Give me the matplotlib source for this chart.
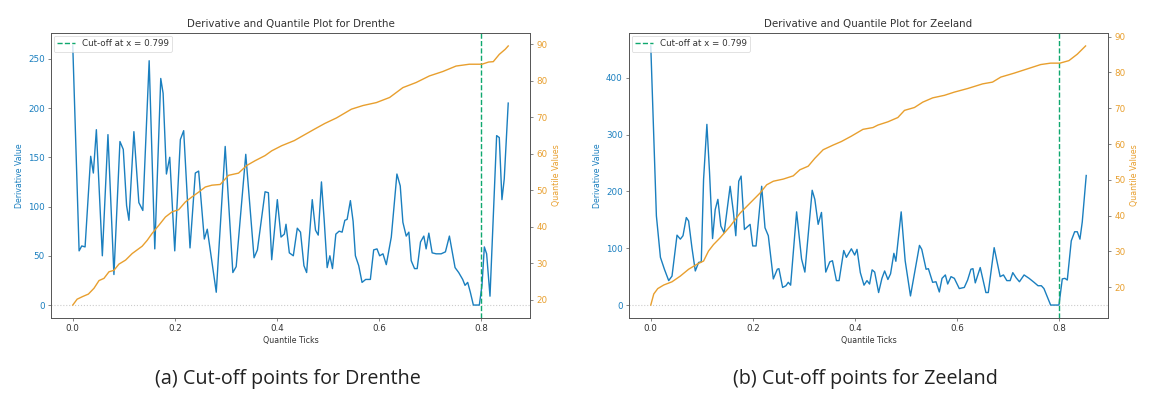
import matplotlib
matplotlib.use("Agg")
import matplotlib.pyplot as plt

# ---------------- data ----------------
cutoff = 0.799
x_ticks = [0.0, 0.2, 0.4, 0.6, 0.8]
regions = ["Drenthe", "Zeeland"]
captions = ["(a) Cut-off points for Drenthe", "(b) Cut-off points for Zeeland"]

drenthe_deriv_x = [0, 0.0124, 0.0176, 0.0241, 0.0351, 0.0403, 0.0462, 0.0579, 0.0689, 0.0806,
                   0.0924, 0.0989, 0.1054, 0.110, 0.1197, 0.1294, 0.1372, 0.1496, 0.1606, 0.1723,
                   0.1769, 0.1834, 0.1899, 0.1997, 0.2107, 0.2172, 0.2296, 0.2400, 0.2465, 0.2576,
                   0.2634, 0.281, 0.2985, 0.3135, 0.32, 0.3388, 0.355, 0.3616, 0.3766, 0.3831,
                   0.3896, 0.4006, 0.4078, 0.4143, 0.4176, 0.4241, 0.4319, 0.4397, 0.446, 0.4527,
                   0.458, 0.469, 0.4754, 0.4807, 0.487, 0.4924, 0.4982, 0.5035, 0.5086, 0.5152,
                   0.5217, 0.5275, 0.5328, 0.5373, 0.5437, 0.549, 0.5535, 0.56, 0.5665, 0.5737,
                   0.5828, 0.5893, 0.5958, 0.601, 0.6075, 0.614, 0.6238, 0.6348, 0.6413, 0.6465,
                   0.653, 0.6582, 0.6628, 0.6693, 0.6745, 0.681, 0.6875, 0.692, 0.6973, 0.7038,
                   0.7116, 0.7214, 0.7298, 0.7376, 0.7428, 0.7487, 0.7558, 0.7636, 0.7682, 0.7734,
                   0.7786, 0.7845, 0.7962, 0.8014, 0.806, 0.8105, 0.8171, 0.8301, 0.8353, 0.8405,
                   0.845, 0.8528]
drenthe_deriv_y = [263, 55, 60, 59, 151, 134, 178, 50, 173, 31,
                   166, 158, 101, 86, 176, 104, 96, 248, 57, 230,
                   215, 133, 150, 55, 168, 177, 58, 134, 136, 67,
                   77, 13, 161, 33, 39, 153, 48, 56, 115, 114,
                   46, 107, 69, 72, 82, 53, 50, 78, 74, 40,
                   33, 107, 76, 71, 125, 86, 38, 50, 37, 72,
                   75, 74, 86, 87, 106, 85, 50, 40, 23, 26,
                   26, 56, 57, 50, 52, 41, 69, 133, 121, 84,
                   70, 74, 45, 37, 37, 64, 70, 57, 73, 53,
                   52, 52, 54, 70, 55, 38, 33, 26, 20, 23,
                   13, 0, 0, 20, 59, 52, 9, 172, 170, 107,
                   128, 205]

drenthe_quant_x = [0, 0.0085, 0.0189, 0.0306, 0.0416, 0.0514, 0.0611, 0.0709, 0.0806, 0.0904,
                   0.1034, 0.1164, 0.1359, 0.1457, 0.1554, 0.1684, 0.1815, 0.1945, 0.2075, 0.2205,
                   0.2335, 0.2465, 0.2595, 0.2725, 0.2888, 0.305, 0.3246, 0.3408, 0.3571, 0.3766,
                   0.3896, 0.4091, 0.4338, 0.4514, 0.4742, 0.4937, 0.5164, 0.5457, 0.5684, 0.5945,
                   0.6205, 0.6465, 0.6725, 0.6985, 0.7246, 0.7506, 0.7766, 0.8014, 0.8144, 0.8235,
                   0.8353, 0.847, 0.8528]
drenthe_quant_y = [18.6, 20.2, 20.9, 21.6, 23.2, 25.3, 25.9, 27.7, 28.1, 29.8,
                   30.9, 32.7, 34.7, 36.3, 38.2, 40.4, 42.7, 44.1, 44.7, 46.8,
                   48.2, 49.5, 50.9, 51.4, 51.6, 54.1, 54.7, 56.8, 58.1, 59.5,
                   60.8, 62.2, 63.6, 65.0, 66.8, 68.3, 69.8, 72.2, 73.2, 74.0,
                   75.4, 78.1, 79.5, 81.3, 82.5, 84.0, 84.5, 84.5, 85.1, 85.2,
                   87.2, 88.6, 89.5]

zeeland_deriv_x = [0, 0.011, 0.0189, 0.0267, 0.0351, 0.0416, 0.0514, 0.0579, 0.0631, 0.0696,
                   0.0741, 0.0806, 0.0872, 0.0937, 0.0989, 0.1034, 0.1099, 0.1151, 0.121, 0.1262,
                   0.1314, 0.1372, 0.1437, 0.1554, 0.1619, 0.1665, 0.1723, 0.1769, 0.1834, 0.1945,
                   0.1997, 0.2062, 0.2172, 0.2237, 0.2302, 0.24, 0.2478, 0.251, 0.2582, 0.2647,
                   0.2693, 0.2739, 0.2856, 0.2953, 0.3018, 0.3161, 0.3213, 0.3278, 0.3343, 0.3427,
                   0.3506, 0.3558, 0.3636, 0.3688, 0.3779, 0.3831, 0.3929, 0.3993, 0.4039, 0.4104,
                   0.4176, 0.4234, 0.4285, 0.4335, 0.4385, 0.4462, 0.4527, 0.458, 0.4644, 0.4696,
                   0.4761, 0.48, 0.4904, 0.4982, 0.5086, 0.5262, 0.5307, 0.5392, 0.5437, 0.552,
                   0.5586, 0.5651, 0.5704, 0.5769, 0.5815, 0.588, 0.5945, 0.6042, 0.614, 0.6205,
                   0.627, 0.631, 0.6355, 0.6452, 0.6563, 0.661, 0.6725, 0.6842, 0.6907, 0.6973,
                   0.7038, 0.709, 0.7155, 0.722, 0.7311, 0.7409, 0.7506, 0.7584, 0.7649, 0.77,
                   0.7831, 0.7994, 0.8059, 0.8111, 0.8157, 0.8235, 0.8301, 0.8353, 0.8405, 0.845,
                   0.8528]
zeeland_deriv_y = [456, 157, 84, 63, 43, 51, 123, 116, 122, 154,
                   148, 101, 60, 75, 76, 221, 318, 233, 117, 168,
                   186, 139, 127, 209, 163, 122, 218, 227, 133, 142,
                   104, 104, 209, 136, 122, 46, 63, 64, 31, 34,
                   40, 35, 164, 81, 58, 202, 186, 142, 163, 58,
                   76, 78, 43, 43, 96, 84, 99, 88, 98, 57,
                   35, 43, 37, 62, 58, 22, 47, 60, 45, 55,
                   91, 77, 164, 78, 16, 105, 98, 63, 64, 40,
                   41, 23, 47, 53, 37, 50, 47, 29, 31, 44,
                   63, 64, 39, 66, 22, 22, 101, 50, 53, 43,
                   43, 57, 48, 41, 53, 47, 40, 34, 34, 29,
                   0, 0, 46, 47, 44, 113, 129, 129, 116, 146,
                   228]

zeeland_quant_x = [0, 0.0059, 0.0137, 0.0254, 0.0416, 0.0579, 0.0741, 0.0904, 0.1034, 0.1131,
                   0.1229, 0.1359, 0.1554, 0.175, 0.1945, 0.214, 0.227, 0.24, 0.2595, 0.279,
                   0.292, 0.3083, 0.3213, 0.3376, 0.3571, 0.3734, 0.3929, 0.4156, 0.4351, 0.4449,
                   0.4644, 0.4839, 0.4969, 0.5164, 0.5327, 0.5522, 0.575, 0.5945, 0.6205, 0.6498,
                   0.6693, 0.6855, 0.7116, 0.7376, 0.7636, 0.7831, 0.8014, 0.8189, 0.8353, 0.8515]
zeeland_quant_y = [15.0, 18.1, 19.6, 20.6, 21.5, 23.1, 25.0, 26.4, 27.3, 30.1,
                   31.9, 33.8, 37.0, 40.7, 43.5, 46.3, 48.6, 49.6, 50.2, 51.1,
                   52.8, 53.8, 56.0, 58.4, 59.7, 60.7, 62.2, 64.1, 64.6, 65.3,
                   66.2, 67.4, 69.4, 70.2, 71.7, 72.9, 73.6, 74.5, 75.5, 76.8,
                   77.3, 78.7, 79.8, 81.0, 82.2, 82.6, 82.6, 83.3, 85.1, 87.4]

# ---------------- style ----------------
BLUE = "#1a7fbf"
ORANGE = "#e89f2e"
GREEN = "#0fa86e"
SPINE = "#555555"
TEXT = "#333333"

W, H = 1153, 395
fig = plt.figure(figsize=(W / 100, H / 100), dpi=100)

panels = [
    (drenthe_deriv_x, drenthe_deriv_y, drenthe_quant_x, drenthe_quant_y, 51),
    (zeeland_deriv_x, zeeland_deriv_y, zeeland_quant_x, zeeland_quant_y, 629),
]
cap_centers = [287.5, 865]

for i, (dx, dy, qx, qy, left_px) in enumerate(panels):
    ax = fig.add_axes([left_px / W, (H - 318) / H, 479 / W, 285 / H])
    ax2 = ax.twinx()
    ax.plot(dx, dy, color=BLUE, lw=1.0, zorder=3)
    ax.axhline(0, color="#cccccc", ls=":", lw=0.8, zorder=1)
    ax.axvline(cutoff, color=GREEN, ls="--", lw=1.0, label=f"Cut-off at x = {cutoff}", zorder=4)
    ax2.plot(qx, qy, color=ORANGE, lw=1.0)

    ax.set_xticks(x_ticks)
    ax.set_title(f"Derivative and Quantile Plot for {regions[i]}", fontsize=7.4, color=TEXT, pad=4)
    ax.set_xlabel("Quantile Ticks", fontsize=5.7, color=TEXT, labelpad=2)
    ax.set_ylabel("Derivative Value", fontsize=5.7, color=BLUE, labelpad=3)
    ax2.set_ylabel("Quantile Values", fontsize=5.7, color=ORANGE, labelpad=3)

    ax.tick_params(axis="x", labelsize=6.3, colors=SPINE, labelcolor=TEXT, length=2.5, width=0.5, pad=2)
    ax.tick_params(axis="y", labelsize=6.3, colors=SPINE, labelcolor=BLUE, length=2.5, width=0.5, pad=2)
    ax2.tick_params(axis="y", labelsize=6.3, colors=SPINE, labelcolor=ORANGE, length=2.5, width=0.5, pad=2)
    for a in (ax, ax2):
        for s in a.spines.values():
            s.set_color(SPINE)
            s.set_linewidth(0.6)

    leg = ax.legend(loc="upper left", fontsize=6.3, handlelength=2.0, borderpad=0.4,
                    borderaxespad=0.3, framealpha=0.8)
    leg.get_frame().set_linewidth(0.5)
    for t in leg.get_texts():
        t.set_color(TEXT)

    fig.text(cap_centers[i] / W, 1 - 379 / H, captions[i], ha="center", va="center",
             fontsize=14.2, family=["Open Sans", "DejaVu Sans"], color="#222222")

fig.savefig("out.png", dpi=100)
